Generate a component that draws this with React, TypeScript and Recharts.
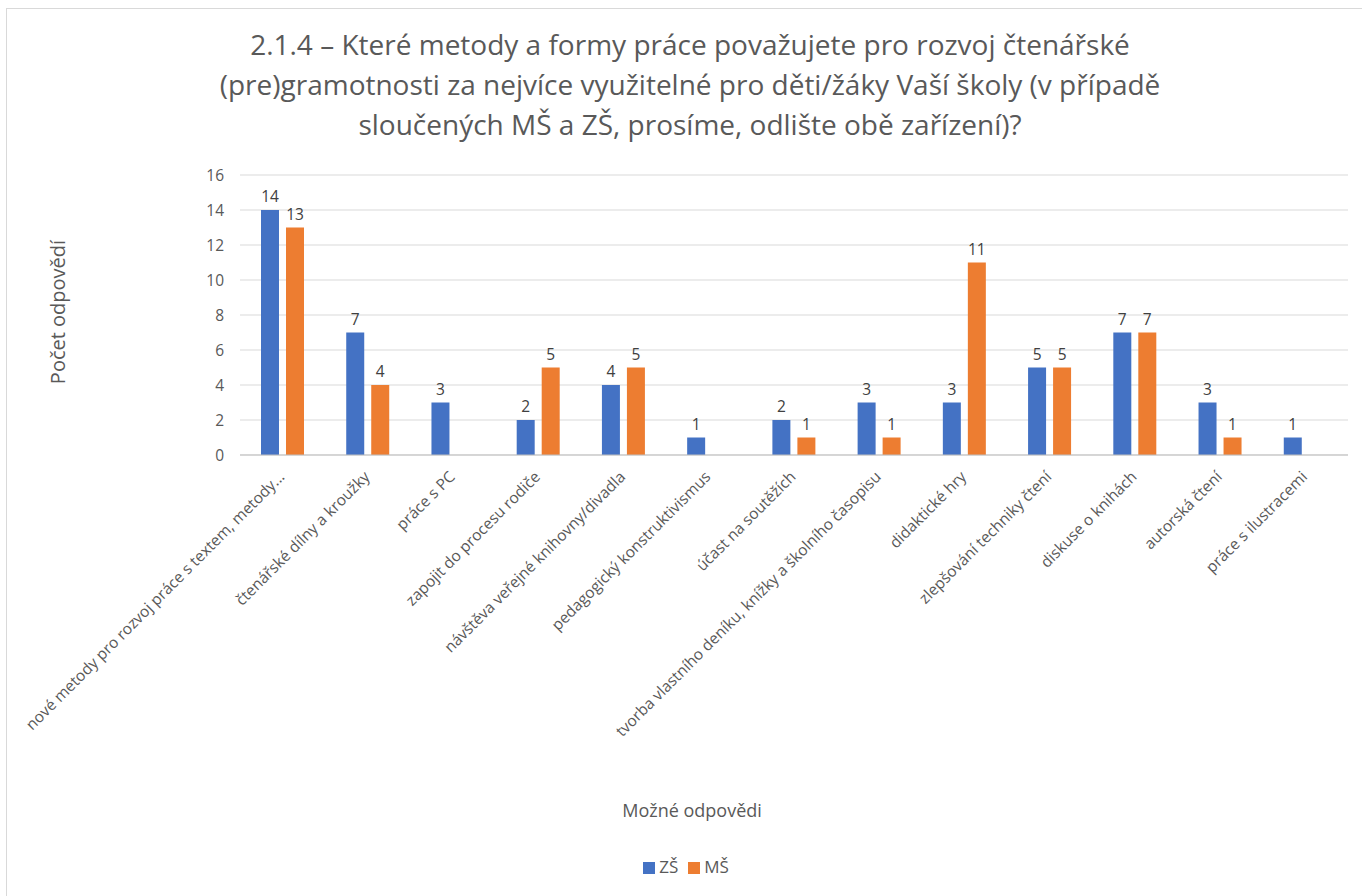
import { BarChart, Bar, XAxis, YAxis, CartesianGrid, Legend, LabelList } from 'recharts';

const categories = [
  'nové metody pro rozvoj práce s textem, metody...',
  'čtenářské dílny a kroužky',
  'práce s PC',
  'zapojit do procesu rodiče',
  'návštěva veřejné knihovny/divadla',
  'pedagogický konstruktivismus',
  'účast na soutěžích',
  'tvorba vlastního deníku, knížky a školního časopisu',
  'didaktické hry',
  'zlepšování techniky čtení',
  'diskuse o knihách',
  'autorská čtení',
  'práce s ilustracemi',
];

const zsValues = [14, 7, 3, 2, 4, 1, 2, 3, 3, 5, 7, 3, 1];
const msValues: (number | null)[] = [13, 4, null, 5, 5, null, 1, 1, 11, 5, 7, 1, null];

const seriesNames = ['ZŠ', 'MŠ'];
const yTicks = [0, 2, 4, 6, 8, 10, 12, 14, 16];

const chartData = categories.map((name, i) => ({ name, zs: zsValues[i], ms: msValues[i] }));

const FONT = "'Open Sans', 'Noto Sans', sans-serif";
const TEXT = '#595959';

function AngledTick(props: any) {
  const { x, y, payload } = props;
  return (
    <g transform={`translate(${x},${y + 12})`}>
      <text
        transform="rotate(-45)"
        textAnchor="end"
        fill={TEXT}
        fontSize={15.5}
        fontFamily={FONT}
        dy={4}
      >
        {payload.value}
      </text>
    </g>
  );
}

export default function App() {
  return (
    <div style={{ position: 'absolute', left: 0, top: 0, width: 1362, height: 896, background: '#fff', fontFamily: FONT }}>
      <div style={{ position: 'absolute', left: 6, top: 8, width: 1360, height: 892, borderLeft: '1px solid #d9d9d9', borderTop: '1px solid #d9d9d9' }} />
      <div
        style={{
          position: 'absolute',
          left: 130,
          top: 24,
          width: 1120,
          textAlign: 'center',
          color: TEXT,
          fontSize: 28,
          lineHeight: '40px',
        }}
      >
        2.1.4 – Které metody a formy práce považujete pro rozvoj čtenářské<br />
        (pre)gramotnosti za nejvíce využitelné pro děti/žáky Vaší školy (v případě<br />
        sloučených MŠ a ZŠ, prosíme, odlište obě zařízení)?
      </div>
      <div
        style={{
          position: 'absolute',
          left: 57,
          top: 312,
          transform: 'translate(-50%, -50%) rotate(-90deg)',
          whiteSpace: 'nowrap',
          color: TEXT,
          fontSize: 20,
        }}
      >
        Počet odpovědí
      </div>
      <div
        style={{
          position: 'absolute',
          left: 692,
          top: 810,
          transform: 'translate(-50%, -50%)',
          whiteSpace: 'nowrap',
          color: TEXT,
          fontSize: 18,
        }}
      >
        Možné odpovědi
      </div>
      <div style={{ position: 'absolute', left: 0, top: 0 }}>
        <BarChart
          width={1362}
          height={896}
          data={chartData}
          margin={{ top: 175, right: 14, left: 200, bottom: 118 }}
          barSize={18}
          barGap={7}
        >
          <CartesianGrid vertical={false} stroke="#d9d9d9" />
          <XAxis
            dataKey="name"
            interval={0}
            height={300}
            tick={<AngledTick />}
            tickLine={false}
            axisLine={{ stroke: '#bfbfbf' }}
          />
          <YAxis
            width={40}
            domain={[0, 16]}
            ticks={yTicks}
            tickLine={false}
            axisLine={false}
            tick={{ fill: TEXT, fontSize: 15.5, fontFamily: FONT }}
            tickMargin={10}
          />
          <Legend
            verticalAlign="bottom"
            align="center"
            iconType="square"
            iconSize={12}
            itemSorter={(item: any) => seriesNames.indexOf(item.value)}
            wrapperStyle={{ position: 'absolute', top: 855, left: 0, width: 1382, fontSize: 17, fontFamily: FONT }}
            formatter={(value: string) => <span style={{ color: TEXT }}>{value}</span>}
          />
          <Bar dataKey="zs" name={seriesNames[0]} fill="#4472c4" isAnimationActive={false}>
            <LabelList dataKey="zs" position="top" fill="#404040" fontSize={15.5} fontFamily={FONT} offset={8} />
          </Bar>
          <Bar dataKey="ms" name={seriesNames[1]} fill="#ed7d31" isAnimationActive={false}>
            <LabelList dataKey="ms" position="top" fill="#404040" fontSize={15.5} fontFamily={FONT} offset={8} />
          </Bar>
        </BarChart>
      </div>
    </div>
  );
}
